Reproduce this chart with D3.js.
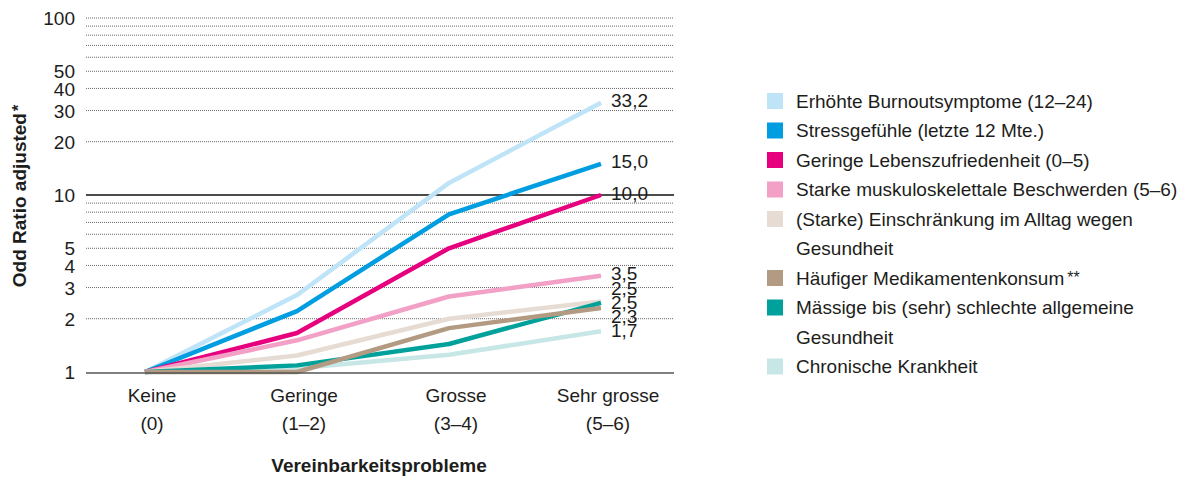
<!DOCTYPE html>
<html><head><meta charset="utf-8">
<script src="https://cdn.jsdelivr.net/npm/d3@7"></script>
<style>
body{margin:0;background:#fff}
text{font-family:"Liberation Sans",Arial,Helvetica,sans-serif;fill:#1d1d1b}
</style>
</head><body>
<svg id="c" width="1188" height="478"></svg>
<script>
// ---------- data ----------
const categories = ["Keine\n(0)", "Geringe\n(1–2)", "Grosse\n(3–4)", "Sehr grosse\n(5–6)"];
const seriesNames = [
  "Erhöhte Burnoutsymptome (12–24)",
  "Stressgefühle (letzte 12 Mte.)",
  "Geringe Lebenszufriedenheit (0–5)",
  "Starke muskuloskelettale Beschwerden (5–6)",
  "(Starke) Einschränkung im Alltag wegen\nGesundheit",
  "Häufiger Medikamentenkonsum",
  "Mässige bis (sehr) schlechte allgemeine\nGesundheit",
  "Chronische Krankheit"
];
const seriesFootnote = ["", "", "", "", "", "**", "", ""];
const seriesColors = ["#bfe4f8", "#009ee0", "#e6007e", "#f2a0c6", "#e7dcd3", "#b39a82", "#00a19b", "#c6e7e6"];
const burnout   = [1, 2.72, 11.7, 33.2];
const stress    = [1, 2.21, 7.78, 15.0];
const lebens    = [1, 1.66, 5.0, 10.0];
const muskulo   = [1, 1.51, 2.67, 3.5];
const einschr   = [1, 1.24, 2.0, 2.5];
const medik     = [1, 1.0, 1.77, 2.3];
const maessig   = [1, 1.09, 1.44, 2.46];
const chronisch = [1, 1.05, 1.25, 1.7];
const seriesValues = [burnout, stress, lebens, muskulo, einschr, medik, maessig, chronisch];
const endLabels = ["33,2", "15,0", "10,0", "3,5", "2,5", "2,3", "2,5", "1,7"];
const yTickLabels = [1, 2, 3, 4, 5, 10, 20, 30, 40, 50, 100];
const gridValues = [2, 3, 4, 5, 6, 7, 8, 9, 20, 30, 40, 50, 60, 70, 80, 90, 100];
const yTitle = "Odd Ratio adjusted";
const xTitle = "Vereinbarkeitsprobleme";

// ---------- layout ----------
const svg = d3.select("#c");
const gridX0 = 86, gridX1 = 674;
const x = d3.scalePoint().domain(categories).range([145, 601]);
const y = d3.scaleLog().domain([1, 100]).range([372, 18]);
const FS = 19;

// grid
svg.append("g").selectAll("line").data(gridValues).join("line")
  .attr("x1", gridX0).attr("x2", gridX1)
  .attr("y1", d => y(d)).attr("y2", d => y(d))
  .attr("stroke", "#666").attr("stroke-width", 1).attr("stroke-dasharray", "1,1");
svg.append("line").attr("x1", gridX0).attr("x2", gridX1).attr("y1", y(10)).attr("y2", y(10))
  .attr("stroke", "#111").attr("stroke-width", 1.4);

// y axis labels
const yAxis = d3.axisLeft(y).tickValues(yTickLabels).tickFormat(d3.format("d")).tickSize(0).tickPadding(0);
const ya = svg.append("g").attr("transform", `translate(75,0)`).call(yAxis);
ya.select(".domain").remove();
ya.selectAll("text").attr("font-size", FS).attr("fill", "#1d1d1b")
  .attr("font-family", '"Liberation Sans",Arial,sans-serif').attr("dy", "0.35em");

// y title
svg.append("text").attr("transform", `translate(26,196) rotate(-90)`).attr("text-anchor", "middle")
  .attr("font-size", FS).attr("font-weight", "bold")
  .text(yTitle).append("tspan").attr("font-size", 16).attr("dx", 2).attr("dy", -2).text("*");

// lines
const line = d3.line().x((d, i) => x(categories[i])).y(d => y(d));
const drawOrder = [7, 0, 1, 2, 3, 4, 6, 5];
svg.append("g").selectAll("path").data(drawOrder).join("path")
  .attr("d", i => line(seriesValues[i]))
  .attr("fill", "none").attr("stroke", i => seriesColors[i])
  .attr("stroke-width", 4.5).attr("stroke-linejoin", "round");

// x axis line
svg.append("line").attr("x1", gridX0).attr("x2", gridX1).attr("y1", y(1) + 1).attr("y2", y(1) + 1)
  .attr("stroke", "#555").attr("stroke-width", 1.4);

// x labels
const xl = svg.append("g").selectAll("text").data(categories).join("text")
  .attr("x", d => x(d) + 7).attr("y", 402).attr("text-anchor", "middle").attr("font-size", FS);
xl.selectAll("tspan").data(d => d.split("\n")).join("tspan")
  .attr("x", function () { return d3.select(this.parentNode).attr("x"); })
  .attr("dy", (d, i) => i === 0 ? 0 : 28).text(d => d);

svg.append("text").attr("x", 379).attr("y", 472).attr("text-anchor", "middle")
  .attr("font-size", FS).attr("font-weight", "bold").text(xTitle);

// end labels with simple collision avoidance
const last = categories.length - 1;
let labs = seriesValues.map((v, i) => ({ i, target: y(v[last]), text: endLabels[i] }));
labs.sort((a, b) => a.target - b.target);
const gap = 14;
let groups = labs.map(l => ({ items: [l], mean: l.target }));
let changed = true;
while (changed) {
  changed = false;
  for (let k = 0; k < groups.length - 1; k++) {
    const a = groups[k], b = groups[k + 1];
    const aBottom = a.mean + (a.items.length - 1) * gap / 2;
    const bTop = b.mean - (b.items.length - 1) * gap / 2;
    if (bTop - aBottom < gap) {
      const items = a.items.concat(b.items);
      const mean = d3.mean(items, d => d.target);
      groups.splice(k, 2, { items, mean });
      changed = true; break;
    }
  }
}
groups.forEach(g => g.items.forEach((l, j) => { l.pos = g.mean + (j - (g.items.length - 1) / 2) * gap; }));
svg.append("g").selectAll("text").data(labs).join("text")
  .attr("x", x(categories[last]) + 10).attr("y", d => d.pos - 2).attr("dy", "0.35em")
  .attr("font-size", FS).text(d => d.text);

// legend
const rowH = 29.5;
let row = 0;
const lg = svg.append("g");
seriesNames.forEach((name, i) => {
  const lines = name.split("\n");
  const cy = 101 + row * rowH;
  lg.append("rect").attr("x", 767).attr("y", cy - 8).attr("width", 16).attr("height", 16)
    .attr("fill", seriesColors[i]);
  lines.forEach((t, j) => {
    const tx = lg.append("text").attr("x", 796).attr("y", cy + j * rowH).attr("dy", "0.35em")
      .attr("font-size", FS).text(t);
    if (j === lines.length - 1 && seriesFootnote[i]) {
      tx.append("tspan").attr("dx", 3).attr("font-size", 16).attr("dy", "-0.1em").text(seriesFootnote[i]);
    }
  });
  row += lines.length;
});
</script>
</body></html>
